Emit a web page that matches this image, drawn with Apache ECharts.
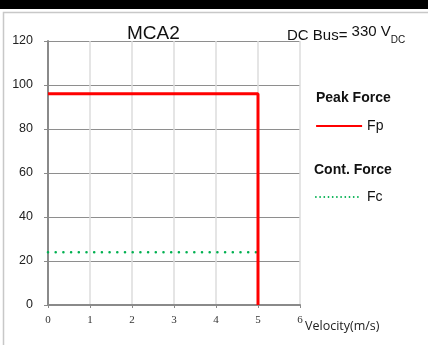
<!DOCTYPE html>
<html><head><meta charset="utf-8">
<script src="https://cdn.jsdelivr.net/npm/echarts@6/dist/echarts.min.js"></script>
<style>html,body{margin:0;padding:0;background:#fff}#c{width:428px;height:345px}</style>
</head><body><div id="c"></div>
<script>
const xTicks = [0, 1, 2, 3, 4, 5, 6];
const yTicks = [0, 20, 40, 60, 80, 100, 120];
const peakVel = [0, 5, 5];
const peakForce = [96, 96, 0];
const contVel = [0, 5];
const contForce = [24, 24];
const title = 'MCA2';
const busVoltage = 330;

const chart = echarts.init(document.getElementById('c'));
chart.setOption({
  animation: false,
  backgroundColor: '#fff',
  grid: { left: 48, right: 128, top: 41, bottom: 40 },
  xAxis: {
    type: 'value', min: xTicks[0], max: xTicks[xTicks.length - 1], interval: 1,
    axisLine: { lineStyle: { color: '#8a8a8a', width: 2 } },
    axisTick: { show: true, length: 3, lineStyle: { color: '#8a8a8a', width: 1 } },
    axisLabel: { fontFamily: 'Liberation Serif', fontSize: 11, color: '#333', margin: 10,
      formatter: v => String(v) },
    splitLine: { show: true, lineStyle: { color: '#dcdcdc', width: 1.5 } }
  },
  yAxis: {
    type: 'value', min: yTicks[0], max: yTicks[yTicks.length - 1], interval: 20,
    axisLine: { show: true, lineStyle: { color: '#8a8a8a', width: 2 } },
    axisTick: { show: true, length: 4, lineStyle: { color: '#8a8a8a', width: 1 } },
    axisLabel: { fontFamily: 'Liberation Sans', fontSize: 12.5, color: '#222', margin: 15 },
    splitLine: { show: true, lineStyle: { color: '#8e8e8e', width: 1 } }
  },
  legend: [
    { data: ['Fp'], left: 310, top: 114, itemWidth: 46, itemHeight: 14, itemGap: 5,
      itemStyle: { opacity: 0 },
      lineStyle: { width: 2.2 },
      textStyle: { fontFamily: 'Liberation Sans', fontSize: 14, color: '#111' } },
    { data: ['Fc'], left: 310, top: 185, itemWidth: 46, itemHeight: 14, itemGap: 5,
      itemStyle: { opacity: 0 },
      lineStyle: { width: 1.8, type: [0, 4.2], cap: 'round' },
      textStyle: { fontFamily: 'Liberation Sans', fontSize: 14, color: '#111' } }
  ],
  series: [
    { name: 'Fc', type: 'line', symbol: 'none', z: 3,
      data: contVel.map((v, i) => [v, contForce[i]]),
      lineStyle: { color: '#00b050', width: 2.6, type: [0, 7.7], cap: 'round' } },
    { name: 'Fp', type: 'line', symbol: 'none', z: 4,
      data: peakVel.map((v, i) => [v, peakForce[i]]),
      lineStyle: { color: '#ff0000', width: 3 } }
  ],
  graphic: [
    { type: 'rect', shape: { x: 0, y: 0, width: 428, height: 9 }, style: { fill: '#000' }, silent: true },
    { type: 'rect', shape: { x: 3.5, y: 12.5, width: 440, height: 340 }, style: { fill: 'none', stroke: '#c8c8c8', lineWidth: 1.5 }, silent: true },
    { type: 'text', left: 127, top: 24, style: { text: title, fontFamily: 'Liberation Sans', fontSize: 19, fill: '#111' } },
    { type: 'text', left: 287, top: 24, style: {
        text: '{a|DC Bus= }{b|' + busVoltage + ' V}{c|DC}',
        rich: {
          a: { fontFamily: 'Liberation Sans', fontSize: 15, fill: '#111', padding: [4, 0, 0, 0] },
          b: { fontFamily: 'Liberation Sans', fontSize: 15, fill: '#111', padding: [0, 0, 4, 0] },
          c: { fontFamily: 'Liberation Sans', fontSize: 10, fill: '#111', padding: [13, 0, 0, 0] }
        } } },
    { type: 'text', left: 316, top: 91, style: { text: 'Peak Force', fontFamily: 'Liberation Sans', fontWeight: 'bold', fontSize: 14, fill: '#111' } },
    { type: 'text', left: 314, top: 163, style: { text: 'Cont. Force', fontFamily: 'Liberation Sans', fontWeight: 'bold', fontSize: 14, fill: '#111' } },
    { type: 'text', left: 305, top: 320, style: { text: 'Velocity(m/s)', fontFamily: 'Open Sans', fontSize: 12.5, fill: '#222' } }
  ]
});
</script></body></html>
